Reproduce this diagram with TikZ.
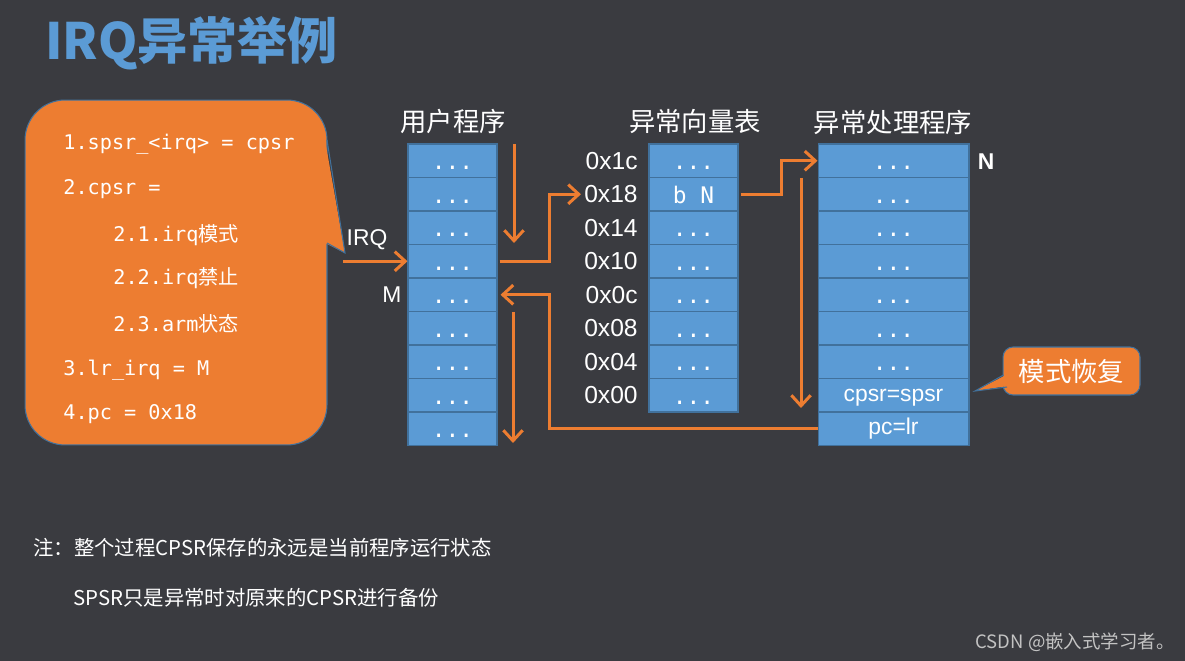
\documentclass[tikz,border=0pt]{standalone}
\usepackage{fontspec}
\setmainfont{Liberation Sans}
\setmonofont{DejaVu Sans Mono}
\newfontfamily\cjk{Noto Sans CJK SC}
\usepackage{tikz}
\usetikzlibrary{arrows.meta}

\definecolor{bgcol}{RGB}{58,59,64}
\definecolor{cellblue}{RGB}{91,155,213}
\definecolor{cellline}{RGB}{65,113,156}
\definecolor{flowor}{RGB}{237,125,49}
\definecolor{markgray}{RGB}{195,195,195}

\begin{document}
\begin{tikzpicture}[x=0.02cm, y=-0.02cm,
	cell/.style={draw=cellline, fill=cellblue, line width=0.6pt, inner sep=0, minimum width=1.78cm, minimum height=0.67cm, text height=11pt, text depth=1pt, text=white, font=\ttfamily\fontsize{13}{13}\selectfont},
	widecell/.style={cell, minimum width=3.02cm},
	addr/.style={anchor=east, inner sep=0, text=white, font=\fontsize{14}{14}\selectfont},
	head/.style={text=white, inner sep=0, font=\cjk\fontsize{15}{15}\selectfont},
	boxtext/.style={anchor=west, inner sep=0, text=white, font=\ttfamily\fontsize{11.5}{11.5}\selectfont},
	tag/.style={text=white, inner sep=0, font=\fontsize{13}{13}\selectfont},
	flow/.style={draw=flowor, line width=1.7pt, -{Straight Barb[length=6pt, width=11pt]}}]
	% Background and title:
	\fill[bgcol] (0,0) rectangle (1185,661);
	\node[anchor=west, inner sep=0, text=cellblue, font=\cjk\bfseries\fontsize{28.5}{28.5}\selectfont] (Title) at (45,43) {IRQ异常举例};
	% Callout with the steps:
	\node[shape=rectangle, draw=cellline, fill=flowor, line width=0.6pt, rounded corners=0.8cm, minimum width=6.04cm, minimum height=6.9cm](Rect1) at (176,272.5){};
	\fill[flowor] (325,140) -- (345,253) -- (325,243) -- cycle;
	\draw[cellline, line width=0.6pt] (327,140) -- (345,253) -- (327,243);
	\node[boxtext] (S1) at (63,144) {1.spsr\_<irq> = cpsr};
	\node[boxtext] (S2) at (63,189) {2.cpsr =};
	\node[boxtext] (S21) at (113,235) {2.1.irq{\cjk 模式}};
	\node[boxtext] (S22) at (113,278) {2.2.irq{\cjk 禁止}};
	\node[boxtext] (S23) at (113,324) {2.3.arm{\cjk 状态}};
	\node[boxtext] (S3) at (63,370) {3.lr\_irq = M};
	\node[boxtext] (S4) at (63,414) {4.pc = 0x18};
	% User program:
	\node[head] (HeadU) at (453,122) {用户程序};
	\node[cell] (U1) at (452.5,160.75) {...};
	\node[cell] (U2) at (452.5,194.25) {...};
	\node[cell] (U3) at (452.5,227.75) {...};
	\node[cell] (U4) at (452.5,261.25) {...};
	\node[cell] (U5) at (452.5,294.75) {...};
	\node[cell] (U6) at (452.5,328.25) {...};
	\node[cell] (U7) at (452.5,361.75) {...};
	\node[cell] (U8) at (452.5,395.25) {...};
	\node[cell] (U9) at (452.5,428.75) {...};
	\node[tag] (IRQ) at (367,240) {IRQ};
	\node[tag] (M) at (392,295) {M};
	% Vector table:
	\node[head] (HeadV) at (695,122) {异常向量表};
	\node[cell] (V1) at (693.5,160.75) {...};
	\node[cell] (V2) at (693.5,194.25) {b N};
	\node[cell] (V3) at (693.5,227.75) {...};
	\node[cell] (V4) at (693.5,261.25) {...};
	\node[cell] (V5) at (693.5,294.75) {...};
	\node[cell] (V6) at (693.5,328.25) {...};
	\node[cell] (V7) at (693.5,361.75) {...};
	\node[cell] (V8) at (693.5,395.25) {...};
	\node[addr] (L1) at (638,160.75) {0x1c};
	\node[addr] (L2) at (638,194.25) {0x18};
	\node[addr] (L3) at (638,227.75) {0x14};
	\node[addr] (L4) at (638,261.25) {0x10};
	\node[addr] (L5) at (638,294.75) {0x0c};
	\node[addr] (L6) at (638,328.25) {0x08};
	\node[addr] (L7) at (638,361.75) {0x04};
	\node[addr] (L8) at (638,395.25) {0x00};
	% Handler:
	\node[head] (HeadH) at (893,122) {异常处理程序};
	\node[widecell] (H1) at (893.5,160.75) {...};
	\node[widecell] (H2) at (893.5,194.25) {...};
	\node[widecell] (H3) at (893.5,227.75) {...};
	\node[widecell] (H4) at (893.5,261.25) {...};
	\node[widecell] (H5) at (893.5,294.75) {...};
	\node[widecell] (H6) at (893.5,328.25) {...};
	\node[widecell] (H7) at (893.5,361.75) {...};
	\node[widecell, text height=9pt, text depth=2pt, font=\fontsize{13}{13}\selectfont] (H8) at (893.5,395.25) {cpsr=spsr};
	\node[widecell, text height=9pt, text depth=2pt, font=\fontsize{13}{13}\selectfont] (H9) at (893.5,428.75) {pc=lr};
	\node[tag, font=\bfseries\fontsize{13}{13}\selectfont] (N) at (986,162) {N};
	% Restore callout:
	\node[shape=rectangle, draw=cellline, fill=flowor, line width=0.6pt, rounded corners=0.2cm, minimum width=2.74cm, minimum height=0.96cm, text=white, font=\cjk\fontsize{15}{15}\selectfont](Rect2) at (1071.5,371){模式恢复};
	\fill[flowor] (1006,375) -- (975,391) -- (1008,386) -- cycle;
	\draw[cellline, line width=0.6pt] (1003.5,375) -- (975,391) -- (1007,387);
	% Flow arrows:
	\coordinate (IRQsrc) at (343,261.25);
	\coordinate (RunA) at (514,144);
	\coordinate (RunB) at (514,243);
	\coordinate (HRunA) at (801,178);
	\coordinate (HRunB) at (801,408);
	\coordinate (RetTurn) at (549,294.75);
	\coordinate (RunC) at (513,312);
	\coordinate (RunD) at (513,443);
	\draw[flow] (IRQsrc) -- (U4.west);
	\draw[flow] (RunA) -- (RunB);
	\draw[flow] ([xshift=0.04cm]U4.east) -- ++(50,0) |- ([xshift=-0.06cm]L2.west);
	\draw[flow] ([xshift=0.04cm]V2.east) -- ++(41,0) |- (H1.west);
	\draw[flow] (HRunA) -- (HRunB);
	\draw[flow] (H9.west) -| (RetTurn) -- ([xshift=0.06cm]U5.east);
	\draw[flow] (RunC) -- (RunD);
	% Notes:
	\node[anchor=west, inner sep=0, text=white, font=\cjk\fontsize{11.6}{11.6}\selectfont] (Note1) at (33,548) {注：整个过程CPSR保存的永远是当前程序运行状态};
	\node[anchor=west, inner sep=0, text=white, font=\cjk\fontsize{11.6}{11.6}\selectfont] (Note2) at (73,598) {SPSR只是异常时对原来的CPSR进行备份};
	\node[anchor=east, inner sep=0, text=markgray, font=\cjk\fontsize{10.5}{10.5}\selectfont] (Mark) at (1175,642) {CSDN @嵌入式学习者。};
\end{tikzpicture}
\end{document}
